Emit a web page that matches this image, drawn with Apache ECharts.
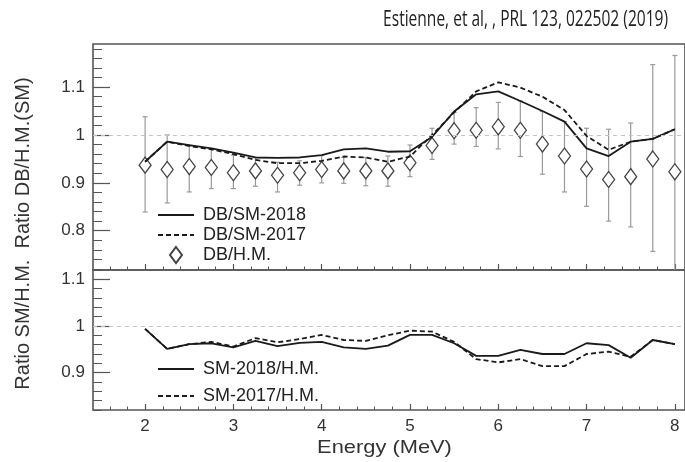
<!DOCTYPE html>
<html>
<head>
<meta charset="utf-8">
<script src="https://cdn.jsdelivr.net/npm/echarts@6/dist/echarts.min.js"></script>
<style>
  html, body { margin: 0; padding: 0; background: #fff; }
  #chart { width: 685px; height: 462px; }
</style>
</head>
<body>
<div id="chart"></div>
<script>
// Neutrino energy bins (MeV)
const energy = [2, 2.25, 2.5, 2.75, 3, 3.25, 3.5, 3.75, 4, 4.25, 4.5, 4.75, 5, 5.25, 5.5, 5.75, 6, 6.25, 6.5, 6.75, 7, 7.25, 7.5, 7.75, 8];

// Upper panel: Daya Bay over summation-method spectra, and Daya Bay over Huber-Mueller
const dbSm2018 = [0.944, 0.986, 0.979, 0.972, 0.963, 0.953, 0.952, 0.953, 0.958, 0.970, 0.972, 0.965, 0.966, 0.996, 1.049, 1.085, 1.091, 1.071, 1.050, 1.028, 0.972, 0.956, 0.986, 0.992, 1.012];
const dbSm2017 = [0.944, 0.986, 0.977, 0.970, 0.960, 0.948, 0.941, 0.941, 0.946, 0.955, 0.953, 0.944, 0.955, 1.000, 1.047, 1.091, 1.110, 1.099, 1.080, 1.052, 0.998, 0.969, 0.986, 0.992, 1.012];
const dbHm = [0.937, 0.928, 0.934, 0.932, 0.921, 0.925, 0.916, 0.921, 0.928, 0.925, 0.925, 0.925, 0.942, 0.978, 1.009, 1.010, 1.017, 1.010, 0.981, 0.956, 0.929, 0.907, 0.913, 0.950, 0.923];
const dbHmHigh = [1.038, 1.000, 0.977, 0.972, 0.958, 0.953, 0.943, 0.946, 0.957, 0.953, 0.953, 0.956, 0.979, 1.014, 1.047, 1.057, 1.068, 1.071, 1.049, 1.028, 1.014, 1.012, 1.025, 1.147, 1.166];
const dbHmLow = [0.839, 0.858, 0.881, 0.888, 0.888, 0.893, 0.881, 0.895, 0.900, 0.899, 0.894, 0.893, 0.913, 0.949, 0.981, 0.976, 0.971, 0.955, 0.918, 0.881, 0.851, 0.820, 0.808, 0.757, 0.700];

// Lower panel: summation method over Huber-Mueller
const smHm2018 = [0.994, 0.951, 0.961, 0.963, 0.954, 0.968, 0.957, 0.964, 0.966, 0.954, 0.951, 0.958, 0.981, 0.981, 0.963, 0.936, 0.936, 0.949, 0.940, 0.940, 0.963, 0.959, 0.932, 0.970, 0.961];
const smHm2017 = [0.994, 0.951, 0.961, 0.966, 0.956, 0.974, 0.965, 0.972, 0.981, 0.970, 0.968, 0.980, 0.990, 0.988, 0.966, 0.929, 0.922, 0.929, 0.914, 0.914, 0.940, 0.945, 0.934, 0.970, 0.961];

// Tick labels
const energyTicks = [2, 3, 4, 5, 6, 7, 8];
const ratioTicksTop = [0.8, 0.9, 1, 1.1];
const ratioTicksBottom = [0.9, 1, 1.1];

const FONT = "'Liberation Sans', Arial, Helvetica, sans-serif";
const INK = '#333';
const FRAME = '#555';

function steps(from, to, step) {
  const out = [];
  for (let v = from; v <= to + 1e-9; v += step) out.push(Math.round(v * 1000) / 1000);
  return out;
}
const pairs = (xs, ys) => xs.map((x, i) => [x, ys[i]]);

const X_MIN = 1.41, X_MAX = 8.115;
const TOP_MIN = 0.718, TOP_MAX = 1.19;
const BOT_MIN = 0.82, BOT_MAX = 1.12;

const grids = [
  { left: 93, top: 44, width: 592, height: 226 },
  { left: 93, top: 270, width: 592, height: 140 }
].map(g => Object.assign(g, { show: true, borderColor: FRAME, borderWidth: 1.6, backgroundColor: 'transparent' }));

function xAxes(gridIndex, withLabels) {
  const base = {
    type: 'value', gridIndex, min: X_MIN, max: X_MAX, position: 'bottom',
    axisLine: { show: false }, splitLine: { show: false }
  };
  return [
    Object.assign({}, base, {
      axisTick: { show: true, inside: true, length: 6, customValues: energyTicks, lineStyle: { color: FRAME, width: 1.2 } },
      axisLabel: withLabels
        ? { show: true, customValues: energyTicks, fontFamily: FONT, fontSize: 17, color: INK, margin: 8 }
        : { show: false }
    }),
    Object.assign({}, base, {
      axisTick: { show: true, inside: true, length: 3.5, customValues: steps(1.6, 8.0, 0.2), lineStyle: { color: FRAME, width: 1 } },
      axisLabel: { show: false }
    })
  ];
}

function yAxes(gridIndex, min, max, labels) {
  const base = {
    type: 'value', gridIndex, min, max, position: 'left',
    axisLine: { show: false }, splitLine: { show: false }
  };
  return [
    Object.assign({}, base, {
      axisTick: { show: true, inside: true, length: 17, customValues: labels, lineStyle: { color: FRAME, width: 1.2 } },
      axisLabel: { show: true, customValues: labels, fontFamily: FONT, fontSize: 17, color: INK, margin: 8 }
    }),
    Object.assign({}, base, {
      axisTick: { show: true, inside: true, length: 9, customValues: steps(Math.ceil(min * 50) / 50, max, 0.02), lineStyle: { color: FRAME, width: 1 } },
      axisLabel: { show: false }
    })
  ];
}

const unityLine = {
  silent: true, symbol: ['none', 'none'], label: { show: false },
  lineStyle: { color: '#c4c4c4', type: [4, 4], width: 1 },
  data: [{ yAxis: 1 }], animation: false
};

const solid = { color: '#1a1a1a', width: 1.8, type: 'solid' };
const dashed = { color: '#1a1a1a', width: 1.8, type: [5, 3] };
// legend entries for the curves show only the line sample
const lineOnly = { opacity: 0 };

const legendText = { fontFamily: FONT, fontSize: 18, lineHeight: 18, color: '#222', padding: [0, 0, 0, 4] };

const option = {
  animation: false,
  backgroundColor: '#fff',
  grid: grids,
  xAxis: [...xAxes(0, false), ...xAxes(1, true)],
  yAxis: [...yAxes(0, TOP_MIN, TOP_MAX, ratioTicksTop), ...yAxes(1, BOT_MIN, BOT_MAX, ratioTicksBottom)],
  legend: [
    {
      orient: 'vertical', left: 152, top: 201, itemWidth: 36, itemHeight: 16, itemGap: 2,
      selectedMode: false, textStyle: legendText,
      data: [
        { name: 'DB/SM-2018', itemStyle: lineOnly },
        { name: 'DB/SM-2017', itemStyle: lineOnly },
        { name: 'DB/H.M.', icon: 'path://M6,0L12,8L6,16L0,8Z' }
      ]
    },
    {
      orient: 'vertical', left: 152, top: 355, itemWidth: 36, itemHeight: 16, itemGap: 9,
      selectedMode: false, textStyle: legendText,
      data: [
        { name: 'SM-2018/H.M.', itemStyle: lineOnly },
        { name: 'SM-2017/H.M.', itemStyle: lineOnly }
      ]
    }
  ],
  series: [
    {
      name: 'DB/H.M. errors', type: 'custom', xAxisIndex: 0, yAxisIndex: 0, clip: true, z: 1,
      data: energy.map((x, i) => [x, dbHmLow[i], dbHmHigh[i]]),
      encode: { x: 0, y: [1, 2] },
      renderItem(params, api) {
        const x = api.value(0);
        const hi = api.coord([x, api.value(2)]);
        const lo = api.coord([x, api.value(1)]);
        const cap = 2.5;
        const st = { stroke: '#9a9a9a', lineWidth: 1.2 };
        return {
          type: 'group',
          children: [
            { type: 'line', shape: { x1: hi[0], y1: hi[1], x2: lo[0], y2: lo[1] }, style: st },
            { type: 'line', shape: { x1: hi[0] - cap, y1: hi[1], x2: hi[0] + cap, y2: hi[1] }, style: st },
            { type: 'line', shape: { x1: lo[0] - cap, y1: lo[1], x2: lo[0] + cap, y2: lo[1] }, style: st }
          ]
        };
      }
    },
    {
      name: 'DB/H.M.', type: 'scatter', xAxisIndex: 0, yAxisIndex: 0, z: 2,
      symbol: 'diamond', symbolSize: [12, 16],
      itemStyle: { color: '#fff', borderColor: '#444', borderWidth: 1.3, opacity: 1 },
      data: pairs(energy, dbHm),
      markLine: unityLine
    },
    {
      name: 'DB/SM-2018', type: 'line', xAxisIndex: 0, yAxisIndex: 0, z: 3,
      symbol: 'none', lineStyle: solid, itemStyle: { color: '#1a1a1a' },
      data: pairs(energy, dbSm2018)
    },
    {
      name: 'DB/SM-2017', type: 'line', xAxisIndex: 0, yAxisIndex: 0, z: 4,
      symbol: 'none', lineStyle: dashed, itemStyle: { color: '#1a1a1a' },
      data: pairs(energy, dbSm2017)
    },
    {
      name: 'SM-2017/H.M.', type: 'line', xAxisIndex: 2, yAxisIndex: 2, z: 3,
      symbol: 'none', lineStyle: dashed, itemStyle: { color: '#1a1a1a' },
      data: pairs(energy, smHm2017),
      markLine: unityLine
    },
    {
      name: 'SM-2018/H.M.', type: 'line', xAxisIndex: 2, yAxisIndex: 2, z: 4,
      symbol: 'none', lineStyle: solid, itemStyle: { color: '#1a1a1a' },
      data: pairs(energy, smHm2018)
    }
  ],
  graphic: [
    {
      type: 'text', x: 668, y: 20, scaleX: 0.74,
      style: { text: 'Estienne, et al, , PRL 123, 022502 (2019)', fontFamily: "'Open Sans', sans-serif", fontSize: 21, fill: '#222', align: 'right', verticalAlign: 'middle' }
    },
    {
      type: 'text', x: 384.5, y: 448, scaleX: 1.15,
      style: { text: 'Energy (MeV)', fontFamily: FONT, fontSize: 19, fill: INK, align: 'center', verticalAlign: 'middle' }
    },
    {
      type: 'text', x: 23, y: 233.5, rotation: Math.PI / 2,
      style: { text: 'Ratio SM/H.M.  Ratio DB/H.M.(SM)', fontFamily: FONT, fontSize: 20, fill: INK, align: 'center', verticalAlign: 'middle' }
    }
  ]
};

const chart = echarts.init(document.getElementById('chart'), null, { renderer: 'canvas' });
chart.setOption(option);
</script>
</body>
</html>
